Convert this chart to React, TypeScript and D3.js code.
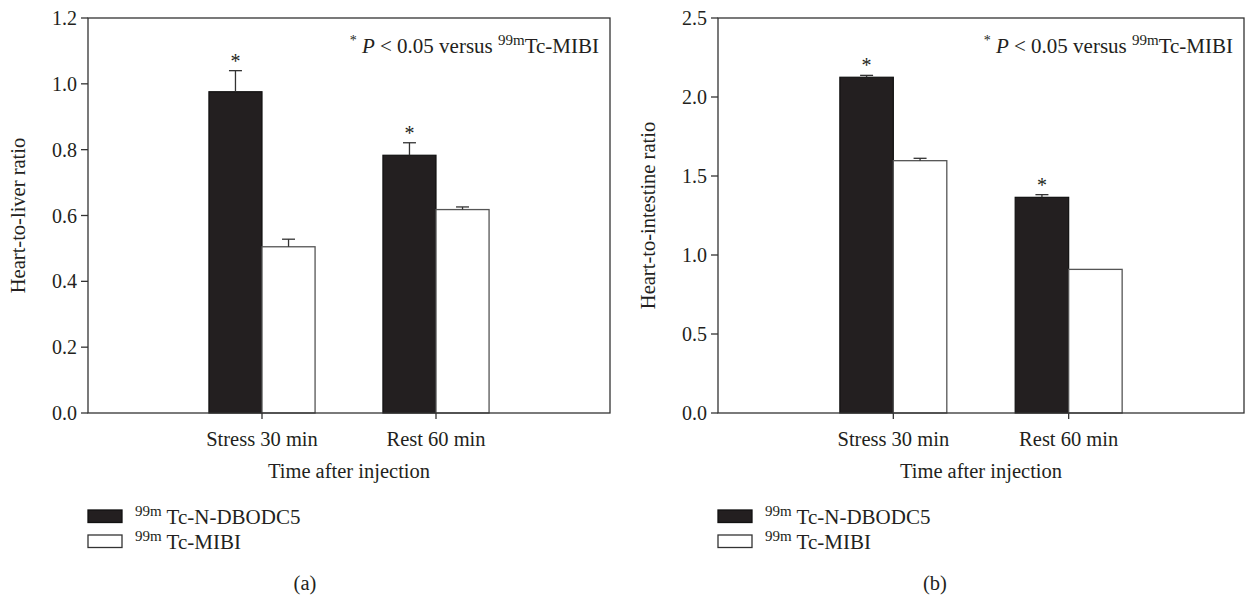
import React from 'react';
import * as d3 from 'd3';

// values
const categories = ['Stress 30 min', 'Rest 60 min'];
const seriesNames = ['Tc-N-DBODC5', 'Tc-MIBI'];
const isotope = '99m';

const liverDbodc = [0.976, 0.783];
const liverDbodcErr = [0.064, 0.038];
const liverMibi = [0.505, 0.618];
const liverMibiErr = [0.023, 0.008];
const liverTicks = [0, 0.2, 0.4, 0.6, 0.8, 1.0, 1.2];

const intestDbodc = [2.125, 1.365];
const intestDbodcErr = [0.012, 0.017];
const intestMibi = [1.597, 0.909];
const intestMibiErr = [0.015, 0];
const intestTicks = [0, 0.5, 1.0, 1.5, 2.0, 2.5];

const significant = [true, true];

const FONT = '"Liberation Serif", "Times New Roman", serif';
const DARK = '#231f20';
const FS = 20.5;

const Panel = ({ x0, x1, yMax, ticks, yLabel, dark, darkErr, light, lightErr, labelX, tag }) => {
    const top = 18;
    const bottom = 413;
    const x = d3.scaleLinear().domain([0, 3]).range([x0, x1]);
    const y = d3.scaleLinear().domain([0, yMax]).range([bottom, top]);
    const bw = 0.305; // bar width in category units
    const cap = 6.5;
    const fmt = d3.format('.1f');

    const errBar = (cx, v, e, key) => e > 0 && (
        <g key={key} stroke="#333" strokeWidth={1.3}>
            <line x1={cx} x2={cx} y1={y(v)} y2={y(v + e)} />
            <line x1={cx - cap} x2={cx + cap} y1={y(v + e)} y2={y(v + e)} />
        </g>
    );

    return (
        <g fontFamily={FONT} fill="#231f20">
            {/* bars */}
            {categories.map((c, i) => {
                const cx = x(i + 1);
                return (
                    <g key={c}>
                        <rect x={x(i + 1 - bw)} width={x(bw) - x(0)} y={y(dark[i])} height={y(0) - y(dark[i])}
                            fill={DARK} stroke="#111" strokeWidth={1.2} />
                        <rect x={cx} width={x(bw) - x(0)} y={y(light[i])} height={y(0) - y(light[i])}
                            fill="#fff" stroke="#555" strokeWidth={1.3} />
                        {errBar(x(i + 1 - bw / 2), dark[i], darkErr[i], 'd')}
                        {errBar(x(i + 1 + bw / 2), light[i], lightErr[i], 'l')}
                        {significant[i] && (
                            <text x={x(i + 1 - bw / 2)} y={y(dark[i] + darkErr[i]) - 3} textAnchor="middle" fontSize={20}>*</text>
                        )}
                    </g>
                );
            })}
            {/* frame */}
            <rect x={x0} y={top} width={x1 - x0} height={bottom - top} fill="none" stroke="#333" strokeWidth={1.3} />
            {/* y axis */}
            {ticks.map(t => (
                <g key={t}>
                    <line x1={x0 - 7} x2={x0} y1={y(t)} y2={y(t)} stroke="#333" strokeWidth={1.3} />
                    <text x={x0 - 11} y={y(t)} dy="0.35em" textAnchor="end" fontSize={20}>{fmt(t)}</text>
                </g>
            ))}
            <text transform={`translate(${labelX},${(top + bottom) / 2}) rotate(-90)`} dy="0.35em" textAnchor="middle" fontSize={FS}>{yLabel}</text>
            {/* x axis */}
            {categories.map((c, i) => (
                <g key={c}>
                    <line x1={x(i + 1)} x2={x(i + 1)} y1={bottom} y2={bottom + 6} stroke="#333" strokeWidth={1.3} />
                    <text x={x(i + 1)} y={446} textAnchor="middle" fontSize={FS}>{c}</text>
                </g>
            ))}
            <text x={(x0 + x1) / 2} y={478} textAnchor="middle" fontSize={FS}>Time after injection</text>
            {/* note */}
            <text x={x1 - 11} y={53} textAnchor="end" fontSize={21}>
                <tspan fontSize={14} dy={-8}>*</tspan>
                <tspan dy={8} fontStyle="italic"> P</tspan>
                <tspan> &lt; 0.05 versus </tspan>
                <tspan fontSize={15} dy={-8}>{isotope}</tspan>
                <tspan dy={8}>Tc-MIBI</tspan>
            </text>
            {/* legend */}
            {seriesNames.map((s, i) => (
                <g key={s}>
                    <rect x={x0} y={510 + i * 25} width={34} height={12.5}
                        fill={i === 0 ? DARK : '#fff'} stroke={i === 0 ? '#111' : '#333'} strokeWidth={1.3} />
                    <text x={x0 + 47} y={524 + i * 25} fontSize={21}>
                        <tspan fontSize={15} dy={-8}>{isotope}</tspan>
                        <tspan dy={8}> {s}</tspan>
                    </text>
                </g>
            ))}
            <text x={x0 + 217} y={590} textAnchor="middle" fontSize={FS}>{tag}</text>
        </g>
    );
};

const App = () => (
    <div style={{ position: 'absolute', left: 0, top: 0 }}>
        <svg width={1245} height={597} viewBox="0 0 1245 597" style={{ display: 'block', background: '#fff' }}>
            <Panel x0={88} x1={610} yMax={1.2} ticks={liverTicks} yLabel="Heart-to-liver ratio"
                dark={liverDbodc} darkErr={liverDbodcErr} light={liverMibi} lightErr={liverMibiErr}
                labelX={18} tag="(a)" />
            <Panel x0={718} x1={1244} yMax={2.5} ticks={intestTicks} yLabel="Heart-to-intestine ratio"
                dark={intestDbodc} darkErr={intestDbodcErr} light={intestMibi} lightErr={intestMibiErr}
                labelX={648} tag="(b)" />
        </svg>
    </div>
);

export default App;
